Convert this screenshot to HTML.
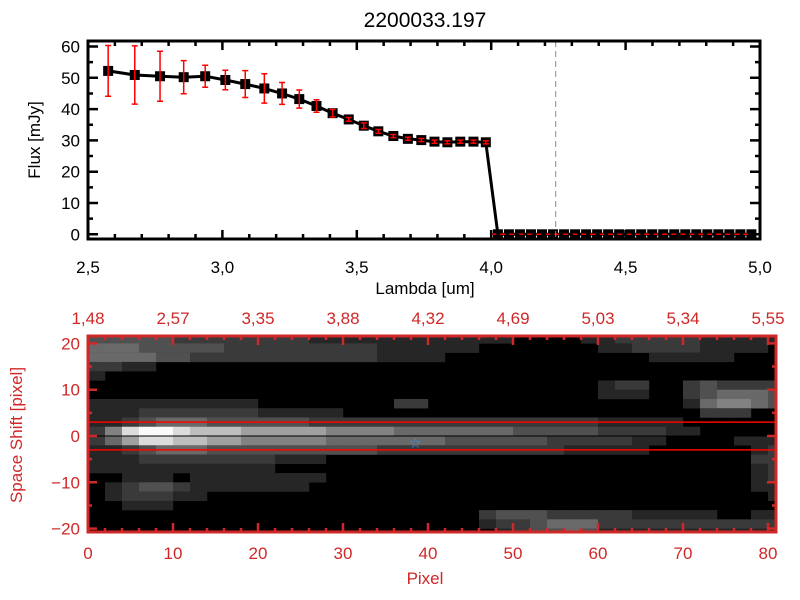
<!DOCTYPE html>
<html><head><meta charset="utf-8"><style>
html,body{margin:0;padding:0;background:#fff;width:800px;height:600px;overflow:hidden}
svg{display:block;font-family:"Liberation Sans",sans-serif}
</style></head><body>
<svg id="c" width="800" height="600" viewBox="0 0 800 600">
<defs><clipPath id="topclip"><rect x="88" y="41" width="672" height="198"/></clipPath>
<clipPath id="botclip"><rect x="88" y="336" width="688" height="196"/></clipPath></defs>
<text x="425" y="27" font-size="21" text-anchor="middle">2200033.197</text>
<g id="topPanel"></g>
<g id="botPanel"></g>
</svg>
<script>
const lambdas=[2.575,2.674,2.768,2.856,2.936,3.011,3.085,3.156,3.222,3.286,3.35,3.41,3.47,3.526,3.58,3.636,3.69,3.74,3.789,3.837,3.885,3.934,3.98,4.025,4.066,4.107,4.148,4.189,4.23,4.271,4.312,4.353,4.394,4.435,4.476,4.517,4.558,4.599,4.64,4.681,4.722,4.763,4.804,4.845,4.886,4.927,4.968];
const flux=[52.2,50.9,50.5,50.2,50.5,49.3,48,46.6,45,43.2,41,38.7,36.7,34.7,32.9,31.4,30.5,30.1,29.6,29.4,29.6,29.6,29.4,0,0,0,0,0,0,0,0,0,0,0,0,0,0,0,0,0,0,0,0,0,0,0,0];
const fluxErr=[8.1,9.3,8,5.3,3.5,3.1,4.3,4.7,3.5,2.9,2,1.2,0.6,0.9,0.6,0.5,0.5,0.5,0.5,0.5,0.5,0.5,0.5,0,0,0,0,0,0,0,0,0,0,0,0,0,0,0,0,0,0,0,0,0,0,0,0];
const xTicks=["2.5","3.0","3.5","4.0","4.5","5.0"];
const yTicks=["0","10","20","30","40","50","60"];
const markerLambda=4.24;
const imgRows=[
"33333222222221111111111110000112222211111",
"44433333222222222111111000000011222211110",
"4444332222222222211110000000000001111100",
"22110000000000000000000000000000000000000",
"10000000000000000000000000000000000000000",
"00000000000000000000000000000012200232222",
"00000000000000000000000000000011100234443",
"11111111110000000022000000000000000145543",
"11122222221111100000000000000000000022200",
"11234443333332222222222222222211111000000",
"25899877766666555544444443333322221100000",
"24688776655555444444433333322222110000111",
"11234443333333333222222222221111100000012",
"11122222222111000000000000000000000000022",
"11111111111000000000000000000000000000012",
"00111011111111000000000000000000000000012",
"01233211111110000000000000000000000000011",
"01222110000000000000000000000000000000001",
"00111000000000000000000000000000000000000",
"00000000000000000000000233322222111110011",
"00000000000000000000000122344422222222222",
"00000000000000000000000012334311111111111"];
const topLabels=["1.48","2.57","3.35","3.88","4.32","4.69","5.03","5.34","5.55"];
const pixTicks=["0","10","20","30","40","50","60","70","80"];
const shiftTicks=["-20","-10","0","10","20"];
const aperture=[3,-3];
const star=[38.5,-1.5];

const NS="http://www.w3.org/2000/svg";
function mk(p,t,a){const el=document.createElementNS(NS,t);for(const k in a)el.setAttribute(k,a[k]);p.appendChild(el);return el;}
const X0=88,X1=760,Y0=239,Y1=41;
const sx=v=>X0+(v-2.5)/2.5*(X1-X0);
const sy=v=>234.3-v*3.13;
const topG=document.getElementById('topPanel');
const gd=mk(topG,'g',{'clip-path':'url(#topclip)'});
let d='';lambdas.forEach((l,i)=>{d+=(i?'L':'M')+sx(l).toFixed(1)+' '+sy(flux[i]).toFixed(1);});
const ln=mk(gd,'path',{d:d,fill:'none',stroke:'#000','stroke-width':3});


lambdas.forEach((l,i)=>{const x=sx(l),y=sy(flux[i]);
 const m=mk(gd,'rect',{x:x-5,y:y-5,width:10,height:10,fill:'#000'});
 
 
});
lambdas.forEach((l,i)=>{const er=fluxErr[i];if(!er)return;const x=sx(l),ya=sy(flux[i]+er),yb=sy(flux[i]-er);
 const g=mk(gd,'path',{d:`M${x} ${ya}V${yb}M${x-3} ${ya}H${x+3}M${x-3} ${yb}H${x+3}`,stroke:'#f00','stroke-width':1.5,fill:'none'});
 
 
});
const zl=mk(gd,'line',{x1:sx(4.0),x2:X1,y1:sy(0),y2:sy(0),stroke:'#f00','stroke-width':1.5,'stroke-dasharray':'5,4'});


const vl=mk(topG,'line',{x1:sx(markerLambda),x2:sx(markerLambda),y1:Y1,y2:Y0,stroke:'#888','stroke-width':1,'stroke-dasharray':'6,4'});


mk(topG,'rect',{x:X0,y:Y1,width:X1-X0,height:Y0-Y1,fill:'none',stroke:'#000','stroke-width':3});
let tk='';
for(let i=0;i<=25;i++){const x=sx(2.5+i*0.1);const L=i%5==0?9:5;tk+=`M${x} ${Y0}v${-L}M${x} ${Y1}v${L}`;}
for(let v=0;v<=60;v+=5){const y=sy(v);const L=v%10==0?10:5;tk+=`M${X0} ${y}h${L}M${X1} ${y}h${-L}`;}
mk(topG,'path',{d:tk,stroke:'#000','stroke-width':2.5,fill:'none'});
xTicks.forEach(t=>{const el=mk(topG,'text',{x:sx(+t),y:273,'font-size':17,'text-anchor':'middle'});el.textContent=t.replace('.',',');
 
 });
yTicks.forEach(t=>{const el=mk(topG,'text',{x:80,y:sy(+t)+6,'font-size':17,'text-anchor':'end'});el.textContent=t;
 
 });
let tt=mk(topG,'text',{x:425,y:294,'font-size':17,'text-anchor':'middle'});tt.textContent='Lambda [um]';


tt=mk(topG,'text',{x:0,y:0,'font-size':17,'text-anchor':'middle',transform:'translate(40,140) rotate(-90)'});tt.textContent='Flux [mJy]';



const botG=document.getElementById('botPanel');
const B0=88,B1=776,BT=336,BB=532,RED='#d02828';
const px=v=>B0+v*8.5;
const py=v=>436-v*4.63;
const gray=[0,38,58,80,105,130,160,190,220,250];
mk(botG,'rect',{x:B0,y:BT,width:B1-B0,height:BB-BT,fill:'#000'});
const gi=mk(botG,'g',{'clip-path':'url(#botclip)'});
imgRows.forEach((row,r)=>{for(let c=0;c<row.length;c++){const L=parseInt(row[c]);if(!L)continue;const g=gray[L];
 const cell=mk(gi,'rect',{x:px(2*c),y:py(22-2*r),width:17.2,height:9.5,fill:`rgb(${g},${g},${g})`});
 
 }});
mk(gi,'line',{x1:B0,x2:B1,y1:py(0),y2:py(0),stroke:'#000','stroke-width':1});
aperture.forEach(a=>{const l=mk(gi,'line',{x1:B0,x2:B1,y1:py(a),y2:py(a),stroke:'#f00','stroke-width':1.5});
 
 });
const st=mk(botG,'text',{x:px(star[0]),y:py(star[1])+5,'font-size':14,fill:'#3399ff','text-anchor':'middle','font-family':'DejaVu Sans'});st.textContent='☆';


mk(botG,'rect',{x:B0,y:BT,width:B1-B0,height:BB-BT,fill:'none',stroke:RED,'stroke-width':3});
tk='';
for(let v=0;v<=81;v+=2){const x=px(v);const L=v%10==0?9:4;tk+=`M${x} ${BB}v${-L}M${x} ${BT}v${L}`;}
for(let v=-20;v<=20;v+=5){const y=py(v);const L=v%10==0?9:4;tk+=`M${B0} ${y}h${L}M${B1} ${y}h${-L}`;}
mk(botG,'path',{d:tk,stroke:RED,'stroke-width':2.5,fill:'none'});
pixTicks.forEach(t=>{const el=mk(botG,'text',{x:px(+t),y:559,'font-size':17,'text-anchor':'middle',fill:RED});el.textContent=t;
 
 });
topLabels.forEach((t,i)=>{const el=mk(botG,'text',{x:px(i*10),y:324,'font-size':17,'text-anchor':'middle',fill:RED});el.textContent=t.replace('.',',');
 
 });
shiftTicks.forEach(t=>{const el=mk(botG,'text',{x:80,y:py(+t)+6,'font-size':17,'text-anchor':'end',fill:RED});el.textContent=t.replace('-','−');
 
 });
tt=mk(botG,'text',{x:425,y:584,'font-size':17,'text-anchor':'middle',fill:RED});tt.textContent='Pixel';


tt=mk(botG,'text',{x:0,y:0,'font-size':17,'text-anchor':'middle',fill:RED,transform:'translate(22,435) rotate(-90)'});tt.textContent='Space Shift [pixel]';


</script>
</body></html>
